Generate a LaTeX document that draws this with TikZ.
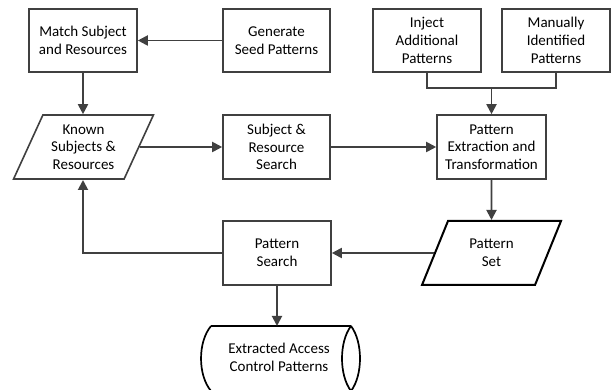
\documentclass[tikz,border=0pt]{standalone}
\usepackage{fontspec}
\setmainfont{Carlito}
\usetikzlibrary{arrows.meta,shapes.geometric}
\definecolor{edge}{HTML}{404040}
\tikzset{
  labelfont/.style={font=\fontsize{15pt}{17.7pt}\selectfont},
  procbox/.style={draw=edge, line width=1.6pt, fill=white, minimum width=108pt,
    minimum height=63pt, inner sep=0pt, align=center, labelfont},
  databox/.style={trapezium, trapezium stretches=true, draw=edge, line width=1.6pt,
    minimum width=140pt, minimum height=64pt, inner sep=0pt, align=center, labelfont},
  flow/.style={draw=edge, line width=1.9pt, -{Triangle[length=10pt,width=10pt]}},
  feed/.style={draw=edge, line width=1.9pt},
}
\begin{document}
\begin{tikzpicture}[x=1pt, y=-1pt]
\useasboundingbox (0,0) rectangle (611,390);

% process steps
\node[procbox] (match) at (83,40.5) {Match Subject\\and Resources};
\node[procbox, minimum width=107pt] (seed) at (276.5,40.5) {Generate\\Seed Patterns};
\node[procbox] (inject) at (427,40.5) {Inject\\Additional\\Patterns};
\node[procbox] (manual) at (556,40.5) {Manually\\Identified\\Patterns};
\node[procbox, minimum width=107pt, minimum height=64pt] (srsearch) at (276.5,147) {Subject \&\\Resource\\Search};
\node[procbox, minimum width=109pt, minimum height=64pt] (extract) at (491.5,147) {Pattern\\Extraction and\\Transformation};
\node[procbox, minimum height=64pt] (psearch) at (277,253) {Pattern\\Search};

% data stores
\node[databox, trapezium left angle=62.7, trapezium right angle=117.3] (known) at (83.5,147) {Known\\Subjects \&\\Resources};
\node[databox, draw=black, line width=2pt, minimum width=139pt,
      trapezium left angle=64.2, trapezium right angle=115.8] (pset) at (491.5,253) {Pattern\\Set};

% output store: horizontal cylinder
\node[minimum width=140pt, minimum height=65pt, inner sep=0pt, align=center,
      labelfont] (result) at (279,357) {Extracted Access\\Control Patterns};
\draw[black, line width=1.7pt]
  (211,326) -- (351,326)
  (211,391) -- (351,391)
  (211,326) .. controls (197.7,342) and (197.7,375) .. (211,391)
  (351,326) .. controls (339,342) and (339,375) .. (351,391)
  (351,326) .. controls (363,342) and (363,375) .. (351,391);

% connectors
\draw[flow] (seed.west) -- (match.east);
\draw[flow] (match.south) -- (match.south |- known.north);
\draw[flow] (known) -- (srsearch);
\draw[flow] (srsearch) -- (extract);
\coordinate (merge) at (extract.north |- 0,88);
\draw[feed] (inject.south) |- (merge) -| (manual.south);
\draw[flow] (merge) -- (extract.north);
\draw[flow] (extract.south) -- (pset.north);
\draw[flow] (pset) -- (psearch);
\draw[flow] (psearch.west) -| (match.south |- 0,180);
\draw[flow] (psearch.south) -- (psearch.south |- 0,326);
\end{tikzpicture}
\end{document}
